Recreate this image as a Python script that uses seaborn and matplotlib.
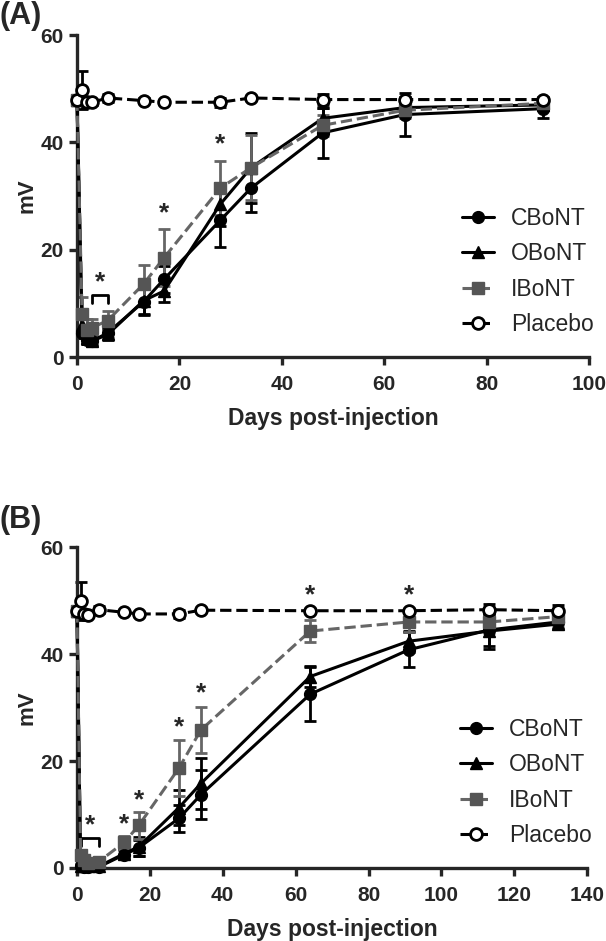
import matplotlib
matplotlib.use('Agg')
import matplotlib.pyplot as plt
import seaborn as sns

# ---- panel A data ----
days_a = [0, 1, 2, 3, 6, 13, 17, 28, 34, 48, 64, 91]
cbont_a = [48, 4.5, 3.2, 3.0, 4.5, 10.3, 14.5, 25.5, 31.5, 41.8, 45.2, 46.3]
cbont_a_err = [0, 1.0, 0.8, 0.8, 1.0, 2.5, 2.5, 5.0, 4.5, 4.7, 4.0, 1.8]
obont_a = [48, 6.0, 3.5, 3.0, 4.2, 10.5, 12.3, 28.5, 35.3, 44.5, 46.5, 47.0]
obont_a_err = [0, 1.5, 1.0, 1.0, 1.0, 2.5, 2.0, 4.0, 6.5, 2.0, 1.5, 1.0]
ibont_a = [48, 8.0, 5.0, 5.5, 6.8, 13.6, 18.5, 31.5, 35.3, 43.2, 46.0, 47.3]
ibont_a_err = [0, 3.2, 2.0, 1.5, 1.8, 3.5, 5.3, 5.0, 6.0, 2.0, 1.5, 1.0]
placebo_a = [48, 49.8, 47.5, 47.5, 48.3, 47.8, 47.5, 47.5, 48.3, 48.0, 48.0, 48.0]
placebo_a_err = [0, 3.5, 0.5, 0.5, 0.8, 0.4, 0.4, 0.8, 0.4, 1.0, 0.5, 0.5]
stars_a = [(17, 24.5), (28, 37.5)]

# ---- panel B data ----
days_b = [0, 1, 2, 3, 6, 13, 17, 28, 34, 64, 91, 113, 132]
cbont_b = [48, 0.3, 0.2, 0.2, 0.2, 2.5, 3.8, 9.3, 13.7, 32.5, 40.8, 44.5, 46.0]
cbont_b_err = [0, 0.3, 0.2, 0.2, 0.2, 0.8, 1.5, 2.5, 4.6, 5.0, 3.3, 3.0, 1.2]
obont_b = [48, 0.4, 0.3, 0.3, 0.3, 2.7, 4.0, 11.3, 15.8, 35.8, 42.4, 44.3, 45.6]
obont_b_err = [0, 0.3, 0.2, 0.2, 0.2, 0.8, 1.8, 3.2, 4.7, 2.0, 2.0, 3.3, 1.0]
ibont_b = [48, 2.4, 1.5, 1.0, 1.2, 4.8, 8.0, 18.7, 25.8, 44.3, 46.0, 46.0, 47.0]
ibont_b_err = [0, 1.0, 0.8, 0.5, 0.5, 1.2, 2.5, 5.2, 4.3, 2.0, 1.8, 2.0, 1.5]
placebo_b = [48, 49.9, 47.5, 47.3, 48.3, 47.8, 47.5, 47.5, 48.2, 48.1, 48.1, 48.3, 48.1]
placebo_b_err = [0, 3.5, 0.3, 0.3, 0.6, 0.3, 0.3, 0.8, 0.3, 0.4, 0.4, 1.0, 1.0]
stars_b = [(13, 6.0), (17, 10.5), (28, 24.0), (34, 30.5), (64, 48.8), (91, 48.8)]

groups = ['CBoNT', 'OBoNT', 'IBoNT', 'Placebo']
styles = {
    'CBoNT': dict(color='black', marker='o', linestyle='-', mfc='black'),
    'OBoNT': dict(color='black', marker='^', linestyle='-', mfc='black'),
    'IBoNT': dict(color='#666666', marker='s', linestyle='--', mfc='#555555'),
    'Placebo': dict(color='black', marker='o', linestyle='--', mfc='white'),
}

sns.set_style('ticks')
plt.rcParams['font.family'] = ['Liberation Sans', 'DejaVu Sans']


def draw_panel(ax, days, series, errs, stars, bracket, xmax, panel_label, label_y):
    for g in groups:
        st = styles[g]
        sns.lineplot(x=days, y=series[g], ax=ax, color=st['color'], marker=st['marker'],
                     linestyle=st['linestyle'], markerfacecolor=st['mfc'],
                     markeredgecolor='black' if g != 'IBoNT' else '#555555',
                     markeredgewidth=2 if g == 'Placebo' else 1,
                     markersize=8.5, linewidth=2.2, label=g, clip_on=False, zorder=3)
        ax.errorbar(days, series[g], yerr=errs[g], fmt='none', ecolor=st['color'],
                    elinewidth=2, capsize=4.5, capthick=2, clip_on=False, zorder=2)
    for x, y in stars:
        ax.text(x, y, '*', ha='center', va='bottom', fontsize=19, fontweight='bold')
    bx0, bx1, by = bracket
    ax.plot([bx0, bx0, bx1, bx1], [by - 1.5, by, by, by - 1.5], color='black', lw=2)
    ax.text((bx0 + bx1) / 2, by + 0.2, '*', ha='center', va='bottom', fontsize=19, fontweight='bold')

    ax.set_xlim(0, xmax)
    ax.set_ylim(0, 60)
    ax.set_yticks([0, 20, 40, 60])
    ax.set_xticks(range(0, xmax + 1, 20))
    for s in ['top', 'right']:
        ax.spines[s].set_visible(False)
    for s in ['left', 'bottom']:
        ax.spines[s].set_linewidth(2.4)
    ax.tick_params(width=2.4, length=6, labelsize=15)
    ax.tick_params(axis='x', pad=7)
    for lab in ax.get_xticklabels() + ax.get_yticklabels():
        lab.set_fontweight('bold')
    ax.set_xlabel('Days post-injection', fontsize=16.5, fontweight='bold', labelpad=9)
    ax.set_ylabel('mV', fontsize=16, fontweight='bold', labelpad=2)
    ax.legend(loc='lower right', bbox_to_anchor=(1.05, 0.0), frameon=False, fontsize=16.5,
              handlelength=1.4, labelspacing=0.55, handletextpad=0.75)
    ax.text(-0.152, label_y, panel_label, transform=ax.transAxes, fontsize=22,
            fontweight='bold', ha='left', va='center')


fig = plt.figure(figsize=(6.06, 9.41), dpi=100)
ax_a = fig.add_axes([0.127, 0.6206, 0.845, 0.342])
ax_b = fig.add_axes([0.127, 0.0776, 0.842, 0.341])

draw_panel(ax_a, days_a,
           dict(CBoNT=cbont_a, OBoNT=obont_a, IBoNT=ibont_a, Placebo=placebo_a),
           dict(CBoNT=cbont_a_err, OBoNT=obont_a_err, IBoNT=ibont_a_err, Placebo=placebo_a_err),
           stars_a, (3, 6, 11.5), 100, '(A)', 1.06)
draw_panel(ax_b, days_b,
           dict(CBoNT=cbont_b, OBoNT=obont_b, IBoNT=ibont_b, Placebo=placebo_b),
           dict(CBoNT=cbont_b_err, OBoNT=obont_b_err, IBoNT=ibont_b_err, Placebo=placebo_b_err),
           stars_b, (1, 6, 5.6), 140, '(B)', 1.085)

fig.savefig('out.png', dpi=100)
plt.close(fig)
